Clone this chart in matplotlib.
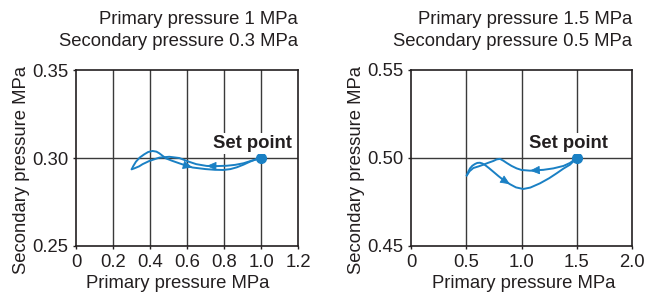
import matplotlib
matplotlib.use("Agg")
import matplotlib.pyplot as plt

plt.rcParams['font.family'] = ['Liberation Sans', 'DejaVu Sans']

# ---------------- data ----------------
# Left chart: primary 1 MPa, secondary 0.3 MPa
L_title = ["Primary pressure 1 MPa", "Secondary pressure 0.3 MPa"]
L_xticks = [0, 0.2, 0.4, 0.6, 0.8, 1.0, 1.2]
L_xticklabels = ["0", "0.2", "0.4", "0.6", "0.8", "1.0", "1.2"]
L_yticks = [0.25, 0.30, 0.35]
L_yticklabels = ["0.25", "0.30", "0.35"]
L_set = (1.0, 0.300)
# path leaving the set point towards lower primary pressure
L_p1_x = [1.0, 0.95, 0.905, 0.86, 0.815, 0.76, 0.706, 0.65, 0.61, 0.558, 0.504, 0.45, 0.396, 0.36, 0.342, 0.315, 0.301]
L_p1_y = [0.300, 0.2985, 0.2970, 0.2961, 0.2956, 0.2954, 0.2955, 0.2965, 0.2979, 0.3000, 0.3007, 0.3002, 0.2983, 0.2965, 0.2953, 0.2941, 0.2936]
# return path to the set point
L_p2_x = [0.301, 0.31, 0.324, 0.345, 0.369, 0.39, 0.414, 0.435, 0.45, 0.486, 0.52, 0.558, 0.6, 0.63, 0.7, 0.75, 0.796, 0.835, 0.869, 0.905, 0.94, 0.97, 1.0]
L_p2_y = [0.2936, 0.2955, 0.2979, 0.3003, 0.3021, 0.3034, 0.3040, 0.3036, 0.3027, 0.2998, 0.2984, 0.2970, 0.2955, 0.2946, 0.2937, 0.2933, 0.2932, 0.2937, 0.2947, 0.2962, 0.2979, 0.2991, 0.300]
L_arrows = [(1, 5), (2, 12)]  # (path, index): arrow head from index to index+1

# Right chart: primary 1.5 MPa, secondary 0.5 MPa
R_title = ["Primary pressure 1.5 MPa", "Secondary pressure 0.5 MPa"]
R_xticks = [0, 0.5, 1.0, 1.5, 2.0]
R_xticklabels = ["0", "0.5", "1.0", "1.5", "2.0"]
R_yticks = [0.45, 0.50, 0.55]
R_yticklabels = ["0.45", "0.50", "0.55"]
R_set = (1.5, 0.500)
R_p1_x = [1.5, 1.439, 1.38, 1.288, 1.2, 1.077, 1.0, 0.956, 0.91, 0.866, 0.835, 0.805, 0.775, 0.745, 0.7, 0.655, 0.61, 0.564, 0.53, 0.504]
R_p1_y = [0.500, 0.4972, 0.4955, 0.4941, 0.4933, 0.4928, 0.4932, 0.4941, 0.4955, 0.4972, 0.4985, 0.4995, 0.4992, 0.4983, 0.4973, 0.4962, 0.4952, 0.4943, 0.4925, 0.4900]
R_p2_x = [0.504, 0.515, 0.534, 0.555, 0.579, 0.6, 0.624, 0.645, 0.67, 0.705, 0.745, 0.79, 0.836, 0.896, 0.95, 1.016, 1.08, 1.167, 1.25, 1.318, 1.38, 1.439, 1.5]
R_p2_y = [0.4900, 0.4918, 0.4941, 0.4956, 0.4966, 0.4972, 0.4973, 0.4969, 0.4960, 0.4943, 0.4922, 0.4898, 0.4875, 0.4851, 0.4833, 0.4824, 0.4832, 0.4856, 0.4885, 0.4913, 0.4940, 0.4962, 0.500]
R_arrows = [(1, 4), (2, 12)]

BLUE = '#1a80c4'
DARK = '#231f20'
GRID = '#3a3a3a'
FS = 13.3

fig = plt.figure(figsize=(6.48, 2.98), dpi=100)

def draw(rect, title, xt, xtl, yt, ytl, sp, p1x, p1y, p2x, p2y, arrows, xlab_x, title_right):
    ax = fig.add_axes(rect)
    ax.set_xlim(xt[0], xt[-1])
    ax.set_ylim(yt[0], yt[-1])
    ax.set_xticks(xt)
    ax.set_xticklabels(xtl)
    ax.set_yticks(yt)
    ax.set_yticklabels(ytl)
    for v in xt[1:-1]:
        ax.axvline(v, color=GRID, lw=1.0, zorder=1)
    for v in yt[1:-1]:
        ax.axhline(v, color=GRID, lw=1.0, zorder=1)
    for s in ax.spines.values():
        s.set_color(DARK)
        s.set_linewidth(1.2)
    ax.tick_params(direction='out', length=2.5, width=1, colors=DARK,
                   labelsize=FS, pad=3)
    ax.plot(p1x, p1y, color=BLUE, lw=1.4, zorder=3, solid_capstyle='round')
    ax.plot(p2x, p2y, color=BLUE, lw=1.4, zorder=3, solid_capstyle='round')
    paths = {1: (p1x, p1y), 2: (p2x, p2y)}
    for pth, i in arrows:
        px, py = paths[pth]
        ax.annotate('', xy=(px[i + 1], py[i + 1]), xytext=(px[i], py[i]),
                    arrowprops=dict(arrowstyle='-|>,head_length=0.5,head_width=0.22',
                                    color=BLUE, lw=0.6, shrinkA=0, shrinkB=0,
                                    mutation_scale=12),
                    zorder=4)
    ax.plot([sp[0]], [sp[1]], 'o', color=BLUE, ms=7, zorder=5)
    ax.annotate('Set point', xy=sp, xytext=(-6, 7), textcoords='offset points',
                ha='center', va='baseline', fontsize=FS, fontweight='bold',
                color=DARK, zorder=6,
                bbox=dict(boxstyle='square,pad=0.1', fc='white', ec='none'))
    ax.set_xlabel('Primary pressure MPa', fontsize=FS, color=DARK)
    ax.set_ylabel('Secondary pressure MPa', fontsize=FS, color=DARK)
    ax.xaxis.set_label_coords(xlab_x, -0.162)
    ax.yaxis.set_label_coords(-0.207, 0.43)
    fig.text(title_right, 1 - 24 / 298, title[0], ha='right', va='baseline',
             fontsize=FS, color=DARK)
    fig.text(title_right, 1 - 46 / 298, title[1], ha='right', va='baseline',
             fontsize=FS, color=DARK)
    return ax

W, H = 648, 298
draw([76 / W, 52 / H, 222 / W, 176 / H], L_title, L_xticks, L_xticklabels,
     L_yticks, L_yticklabels, L_set, L_p1_x, L_p1_y, L_p2_x, L_p2_y, L_arrows,
     0.46, 298 / W)
draw([411 / W, 52 / H, 221 / W, 176 / H], R_title, R_xticks, R_xticklabels,
     R_yticks, R_yticklabels, R_set, R_p1_x, R_p1_y, R_p2_x, R_p2_y, R_arrows,
     0.51, 632 / W)

fig.savefig('out.png', dpi=100)
